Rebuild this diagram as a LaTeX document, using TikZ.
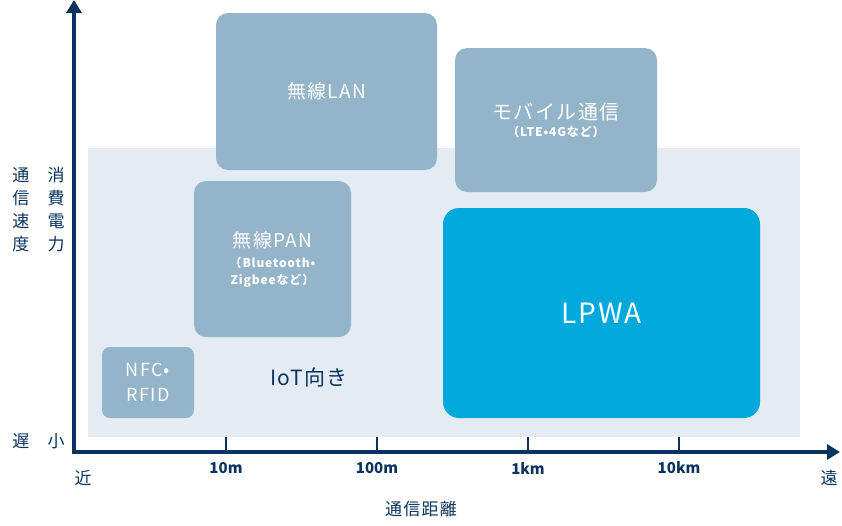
\documentclass[tikz,border=0pt]{standalone}
\usepackage{fontspec}
\setmainfont{Noto Sans CJK JP}[LetterSpace=7]
\newfontfamily\tickfont{Noto Sans CJK JP}
\usetikzlibrary{arrows.meta}

\definecolor{navy}{RGB}{10,52,95}
\definecolor{boxblue}{RGB}{148,180,202}
\definecolor{bgblue}{RGB}{228,235,242}
\definecolor{lpwacyan}{RGB}{0,169,220}

\begin{document}
\begin{tikzpicture}[x=1pt,y=-1pt,
    area/.style={fill=bgblue, inner sep=0pt},
    tech/.style={fill=boxblue, rounded corners=12pt, inner sep=0pt, text=white, align=center},
    axis/.style={draw=navy, line width=3.5pt},
    lbl/.style={text=navy, font=\fontsize{17}{23}\selectfont, inner sep=0pt}
  ]
    \useasboundingbox (0,0) rectangle (842,525);

    % area suited to IoT
    \node[area, minimum width=712pt, minimum height=289pt] at (444,292.5) (iot) {};

    % technologies
    \node[tech, minimum width=221pt, minimum height=157pt, font=\fontsize{19}{22}\selectfont] at (326.5,91.5) (lan) {無線LAN};
    \node[tech, minimum width=202pt, minimum height=144pt, font=\bfseries\fontsize{12}{15}\selectfont] at (556,120) (mobile) {{\mdseries\fontsize{20}{22}\selectfont モバイル通信}\\[2pt] （LTE•4Gなど）};
    \node[tech, minimum width=157pt, minimum height=156pt, font=\bfseries\fontsize{12}{17}\selectfont] at (272.5,259) (pan) {{\mdseries\fontsize{19}{22}\selectfont 無線PAN}\\[3pt] （Bluetooth•\\ Zigbeeなど）};
    \node[tech, minimum width=92pt, minimum height=71pt, rounded corners=8pt, font=\fontsize{18}{25}\selectfont] at (148,382.5) (nfc) {NFC•\\ RFID};
    \node[tech, fill=lpwacyan, minimum width=317pt, minimum height=210pt, rounded corners=16pt, font=\fontsize{28}{30}\selectfont] at (601.5,313) (lpwa) {LPWA};
    \node[text=navy, inner sep=0pt, font=\fontsize{21}{24}\selectfont] at (309,377) (iotlabel) {IoT向き};

    % axes
    \coordinate (origin) at (74,452);
    \coordinate (ytop) at (74,0);
    \coordinate (xend) at (840,452);
    \draw[axis, {Triangle[width=15pt,length=13pt]}-{Triangle[width=15pt,length=13pt]}] (ytop) -- (origin) -- (xend);
    \foreach \x/\d in {226/10m, 377/100m, 528/1km, 679/10km}{
        \coordinate (t\d) at (\x,437);
        \draw[draw=navy, line width=1.5pt] (t\d) -- (t\d |- origin);
        \node[lbl, font=\tickfont\bfseries\fontsize{15}{18}\selectfont] at (\x,468) (l\d) {\d};
    }

    % axis labels
    \node[lbl, align=center] at (21,210) (speed) {通\\信\\速\\度};
    \node[lbl, align=center] at (56,210) (power) {消\\費\\電\\力};
    \node[lbl] at (21,441) (slow) {遅};
    \node[lbl] at (56,441) (small) {小};
    \node[lbl] at (83,478) (near) {近};
    \node[lbl] at (829,478) (far) {遠};
    \node[lbl] at (421,509) (dist) {通信距離};

\end{tikzpicture}
\end{document}
